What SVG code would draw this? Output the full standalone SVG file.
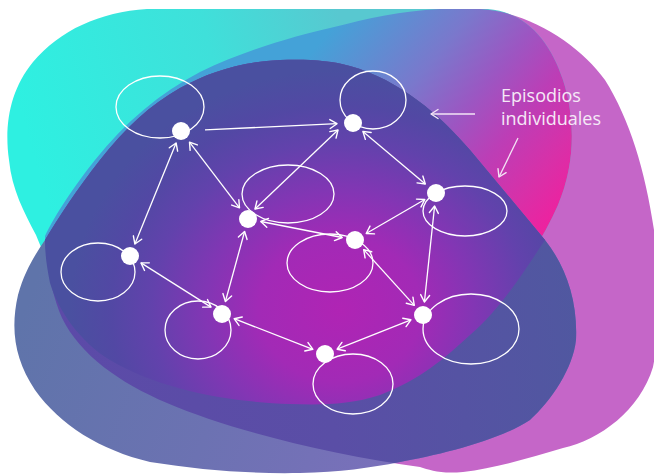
<svg xmlns="http://www.w3.org/2000/svg" width="654" height="474" viewBox="0 0 654 474">
  <defs>
    <style>
      .loop { fill: none; stroke: #ffffff; stroke-width: 1.3; }
      .dot { fill: #ffffff; }
      .link { fill: none; stroke: #ffffff; stroke-width: 1.3; marker-start: url(#chev); marker-end: url(#chev); }
      .link.one { marker-start: none; }
      .note { fill: none; stroke: #f3e4f6; stroke-width: 1.3; marker-end: url(#chev-note); }
      .label { font-family: "Open Sans", "Noto Sans", "Liberation Sans", sans-serif; font-size: 18px; fill: #f5e9f7; }
    </style>

    <marker id="chev" viewBox="-9 -6 11 12" refX="0" refY="0" markerWidth="11" markerHeight="12" markerUnits="userSpaceOnUse" orient="auto-start-reverse">
      <path d="M-7,-4.5 L0,0 L-7,4.5" fill="none" stroke="#ffffff" stroke-width="1.4" stroke-linecap="round" stroke-linejoin="round"/>
    </marker>
    <marker id="chev-note" viewBox="-9 -6 11 12" refX="0" refY="0" markerWidth="11" markerHeight="12" markerUnits="userSpaceOnUse" orient="auto">
      <path d="M-7,-4.5 L0,0 L-7,4.5" fill="none" stroke="#f3e4f6" stroke-width="1.4" stroke-linecap="round" stroke-linejoin="round"/>
    </marker>

    <!-- blob outlines -->
    <path id="blobA" d="M147,9 L488,9 C525,12 550,40 563,80 C576,120 575,165 558,205 C545,235 525,265 500,300 L250,330 L60,285 C50,268 42,250 36,235 C24,212 12,190 9,160 C4,125 10,90 33,62 C60,30 100,12 147,9 Z"/>
    <path id="blobB" d="M45,236 C55,215 75,185 95,160 C125,122 160,93 200,72 C250,48 300,35 330,28 C370,18 400,11 440,9 L480,9 C530,12 580,45 605,80 C630,120 645,170 654,230 C660,270 662,320 653,367 C640,410 600,440 563,448 C530,458 495,468 463,472 C440,474 430,470 420,467 C330,455 230,430 167,403 C120,383 80,355 62,318 C52,295 46,265 45,236 Z"/>
    <path id="blobC" d="M45,240 C58,218 78,188 100,160 C125,128 150,105 180,88 C210,72 240,62 280,60 C305,59 330,60 350,66 C400,80 440,115 470,150 C495,180 520,210 545,240 C565,265 578,300 576,340 C573,368 552,400 530,420 C500,440 440,455 400,462 C370,468 340,472 300,473 C250,474 200,470 150,462 C100,450 60,425 35,390 C15,360 10,330 18,295 C25,270 35,255 45,240 Z"/>
    <path id="blobD" d="M45,240 C58,218 78,188 100,160 C125,128 150,105 180,88 C210,72 240,62 280,60 C305,59 330,60 350,66 C400,80 440,115 470,150 C495,180 520,210 545,240 C525,270 500,310 470,335 C445,358 420,380 380,395 C350,405 320,405 290,404 C230,402 160,390 110,360 C80,342 58,310 50,283 C47,268 45,255 45,240 Z"/>

    <clipPath id="clipB"><use href="#blobB"/></clipPath>

    <linearGradient id="gA" gradientUnits="userSpaceOnUse" x1="20" y1="110" x2="340" y2="20">
      <stop offset="0" stop-color="#2ef0e1"/>
      <stop offset="0.6" stop-color="#3fe0da"/>
      <stop offset="1" stop-color="#58c8d0"/>
    </linearGradient>
    <linearGradient id="gAB" gradientUnits="userSpaceOnUse" x1="330" y1="30" x2="560" y2="220">
      <stop offset="0" stop-color="#44a2d8"/>
      <stop offset="0.33" stop-color="#7a78cc"/>
      <stop offset="0.52" stop-color="#9c56c2"/>
      <stop offset="0.68" stop-color="#bc3eb6"/>
      <stop offset="0.85" stop-color="#d830a8"/>
      <stop offset="1" stop-color="#f0209e"/>
    </linearGradient>
    <linearGradient id="gC" gradientUnits="userSpaceOnUse" x1="20" y1="320" x2="420" y2="470">
      <stop offset="0" stop-color="#5f74aa"/>
      <stop offset="0.5" stop-color="#6c72b2"/>
      <stop offset="1" stop-color="#7c70bc"/>
    </linearGradient>
    <linearGradient id="gCB" gradientUnits="userSpaceOnUse" x1="60" y1="380" x2="580" y2="300">
      <stop offset="0" stop-color="#5c4aa8"/>
      <stop offset="0.5" stop-color="#5a4ea6"/>
      <stop offset="1" stop-color="#5058a0"/>
    </linearGradient>
    <radialGradient id="gD" gradientUnits="userSpaceOnUse" cx="340" cy="310" r="270" gradientTransform="translate(340 310) scale(1 0.89) translate(-340 -310)">
      <stop offset="0" stop-color="#b024b4"/>
      <stop offset="0.3" stop-color="#a22ab6"/>
      <stop offset="0.5" stop-color="#8236b4"/>
      <stop offset="0.7" stop-color="#6242ac"/>
      <stop offset="0.85" stop-color="#5248a4"/>
      <stop offset="1" stop-color="#4a50a0"/>
    </radialGradient>
  </defs>

  <rect width="654" height="474" fill="#ffffff"/>

  <!-- background blobs -->
  <g id="backdrop">
    <use href="#blobB" fill="#c566c8"/>
    <use href="#blobA" fill="url(#gA)"/>
    <use href="#blobA" fill="url(#gAB)" clip-path="url(#clipB)"/>
    <use href="#blobC" fill="url(#gC)"/>
    <use href="#blobC" fill="url(#gCB)" clip-path="url(#clipB)"/>
    <use href="#blobD" fill="url(#gD)"/>
  </g>

  <!-- connectors -->
  <g id="connectors">
    <line class="link one" x1="205" y1="129.9" x2="337" y2="123.7"/>
    <line class="link" x1="176.1" y1="143" x2="134.9" y2="244"/>
    <line class="link" x1="189.5" y1="142.1" x2="239.5" y2="207.9"/>
    <line class="link" x1="338" y1="130" x2="255" y2="209"/>
    <line class="link" x1="362.9" y1="131.4" x2="425.3" y2="184"/>
    <line class="link" x1="260.8" y1="221.5" x2="342.2" y2="237.5"/>
    <line class="link" x1="424.8" y1="199.5" x2="366.2" y2="233.5"/>
    <line class="link" x1="434.6" y1="206" x2="424.4" y2="302"/>
    <line class="link" x1="363.7" y1="249.6" x2="414.3" y2="305.4"/>
    <line class="link" x1="244.6" y1="231.5" x2="225.4" y2="301.5"/>
    <line class="link" x1="141" y1="262.9" x2="211" y2="307.1"/>
    <line class="link" x1="234.1" y1="318.7" x2="312.9" y2="349.3"/>
    <line class="link" x1="410.9" y1="319.8" x2="337.1" y2="349.2"/>
  </g>

  <!-- nodes: each episode with its own loop -->
  <g id="n1"><ellipse class="loop" cx="160" cy="107" rx="44" ry="31"/><circle class="dot" cx="181" cy="131" r="9"/></g>
  <g id="n2"><ellipse class="loop" cx="373" cy="100" rx="33" ry="29"/><circle class="dot" cx="353" cy="123" r="9"/></g>
  <g id="n3"><ellipse class="loop" cx="288" cy="194" rx="46" ry="29"/><circle class="dot" cx="248" cy="219" r="9"/></g>
  <g id="n4"><ellipse class="loop" cx="465" cy="211" rx="42" ry="25"/><circle class="dot" cx="436" cy="193" r="9"/></g>
  <g id="n5"><ellipse class="loop" cx="330" cy="263" rx="43" ry="29"/><circle class="dot" cx="355" cy="240" r="9"/></g>
  <g id="n6"><ellipse class="loop" cx="98" cy="272" rx="37" ry="29"/><circle class="dot" cx="130" cy="256" r="9"/></g>
  <g id="n7"><ellipse class="loop" cx="198" cy="330" rx="33" ry="29"/><circle class="dot" cx="222" cy="314" r="9"/></g>
  <g id="n8"><ellipse class="loop" cx="471" cy="329" rx="48" ry="35"/><circle class="dot" cx="423" cy="315" r="9"/></g>
  <g id="n9"><ellipse class="loop" cx="353" cy="384" rx="40" ry="30"/><circle class="dot" cx="325" cy="354" r="9"/></g>

  <!-- annotation -->
  <g id="label-episodios">
    <text class="label" x="501" y="102">Episodios</text>
    <text class="label" x="501" y="125">individuales</text>
    <line class="note" x1="475" y1="114" x2="431" y2="114"/>
    <line class="note" x1="518" y1="138" x2="499" y2="177"/>
  </g>
</svg>
